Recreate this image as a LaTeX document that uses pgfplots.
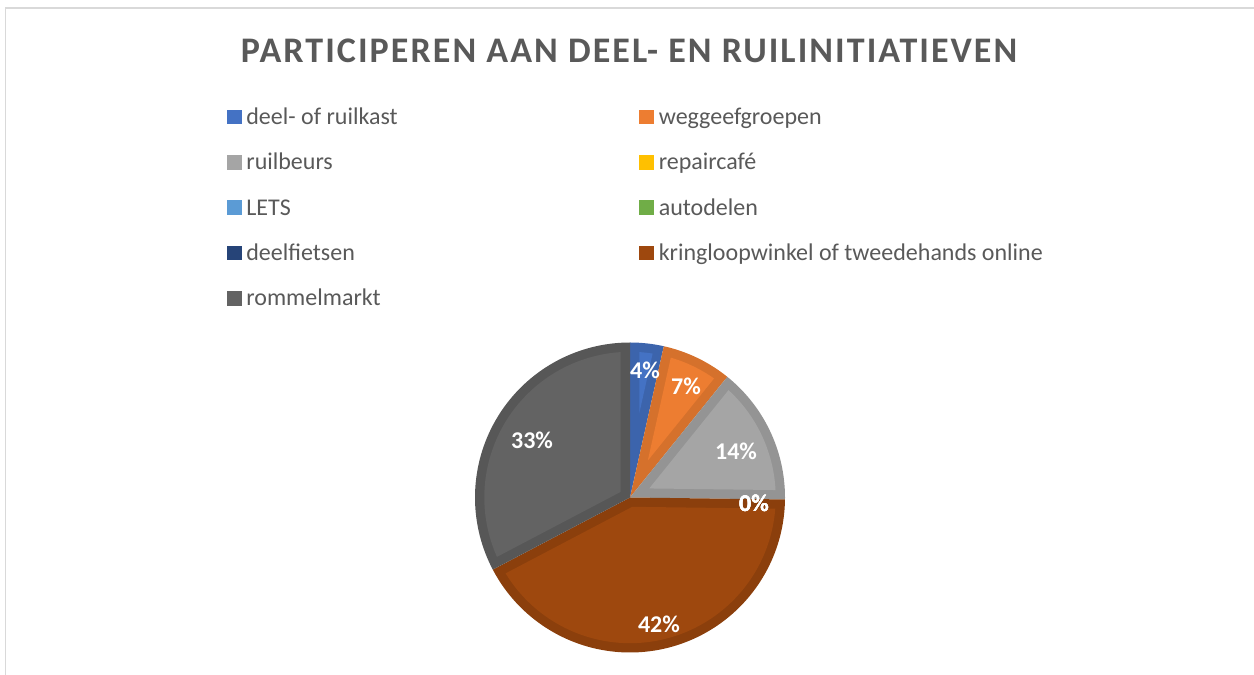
\documentclass[border=0pt]{standalone}
\usepackage{pgfplots}
\pgfplotsset{compat=1.18}
\usepackage{fontspec}
\setmainfont{Carlito}
\newfontfamily\titlefont[LetterSpace=5.7]{Carlito}
\definecolor{txt}{HTML}{595959}
\definecolor{frame}{HTML}{D9D9D9}
\definecolor{cA}{HTML}{4472C4}
\definecolor{cB}{HTML}{ED7D31}
\definecolor{cC}{HTML}{A5A5A5}
\definecolor{cD}{HTML}{FFC000}
\definecolor{cE}{HTML}{5B9BD5}
\definecolor{cF}{HTML}{70AD47}
\definecolor{cG}{HTML}{264478}
\definecolor{cH}{HTML}{9E480E}
\definecolor{cI}{HTML}{636363}
\colorlet{dA}{cA!88!black}
\colorlet{dB}{cB!90!black}
\colorlet{dC}{cC!90!black}
\colorlet{dH}{cH!88!black}
\colorlet{dI}{cI!88!black}
% data (percent)
\def\vA{3.5}  % deel- of ruilkast
\def\vB{7.3}  % weggeefgroepen
\def\vC{14.4} % ruilbeurs
\def\vD{0}    % repaircafe
\def\vE{0}    % LETS
\def\vF{0}    % autodelen
\def\vG{0}    % deelfietsen
\def\vH{42.1} % kringloopwinkel
\def\vI{32.7} % rommelmarkt
\def\bandw{0.06}
\pgfmathsetmacro\dl{asin(\bandw/(1-\bandw))}
\pgfmathsetmacro\rin{1-\bandw}
\newcommand{\slice}[4]{%
 \pgfmathsetmacro\thA{90-3.6*(#2)}%
 \pgfmathsetmacro\thB{90-3.6*(#1)}%
 \pgfmathsetmacro\ph{(\thA+\thB)/2}%
 \pgfmathsetmacro\ra{\bandw/sin((\thB-\thA)/2)}%
 \pgfmathsetmacro\ax{\ra*cos(\ph)}%
 \pgfmathsetmacro\ay{\ra*sin(\ph)}%
 \pgfmathsetmacro\iA{\thA+\dl}%
 \pgfmathsetmacro\iB{\thB-\dl}%
 \edef\doit{%
  \noexpand\addplot[fill=#3, draw=none, domain=\thA:\thB, samples=150, forget plot] ({cos(x)},{sin(x)}) -- (axis cs:0,0) -- cycle;
  \noexpand\addplot[fill=#4, draw=none, domain=\iA:\iB, samples=150] ({\rin*cos(x)},{\rin*sin(x)}) -- (axis cs:\ax,\ay) -- cycle;
 }\doit
}
\newcommand{\LA}[1]{\makebox[198.9bp][l]{\hspace{2.4bp}#1}}
\newcommand{\LB}[1]{\hspace{2.4bp}#1}
\begin{document}
\begin{tikzpicture}
\path[use as bounding box] (0,0) rectangle (627bp,337.5bp);
\draw[frame, line width=0.6bp] (2.75bp,-5bp) rectangle (640bp,333.5bp);
\node[anchor=base, text=txt, font=\fontsize{18bp}{20bp}\titlefont\bfseries] at (314.5bp,306.2bp) {PARTICIPEREN AAN DEEL- EN RUILINITIATIEVEN};
\begin{axis}[
  at={(315bp,88.75bp)}, anchor=center,
  x=77.5bp, y=77.5bp, xmin=-1, xmax=1, ymin=-1, ymax=1,
  hide axis, clip=false,
  legend columns=2,
  legend cell align=left,
  legend image code/.code={\fill[#1, draw=none] (0bp,0bp) rectangle (7.3bp,7.3bp);},
  legend style={draw=none, fill=none, inner sep=0pt, outer sep=0pt,
    column sep=0pt, row sep=0pt,
    at={(-0.8,1.801)}, anchor=north west,
    nodes={inner sep=0pt, anchor=base west, text height=15.15bp, text depth=7.5bp,
      text=txt, font=\fontsize{12bp}{13bp}\selectfont}},
]
\pgfmathsetmacro\pA{\vA}
\pgfmathsetmacro\pB{\pA+\vB}
\pgfmathsetmacro\pC{\pB+\vC}
\pgfmathsetmacro\pH{\pC+\vD+\vE+\vF+\vG+\vH}
\slice{0}{\pA}{dA}{cA}
\addlegendentry{\LA{deel- of ruilkast}}
\slice{\pA}{\pB}{dB}{cB}
\addlegendentry{\LB{weggeefgroepen}}
\slice{\pB}{\pC}{dC}{cC}
\addlegendentry{\LA{ruilbeurs}}
\addlegendimage{fill=cD}
\addlegendentry{\LB{repaircafé}}
\addlegendimage{fill=cE}
\addlegendentry{\LA{LETS}}
\addlegendimage{fill=cF}
\addlegendentry{\LB{autodelen}}
\addlegendimage{fill=cG}
\addlegendentry{\LA{deelfietsen}}
\slice{\pC}{\pH}{dH}{cH}
\addlegendentry{\LB{kringloopwinkel of tweedehands online}}
\slice{\pH}{100}{dI}{cI}
\addlegendentry{\LA{rommelmarkt}}
\begin{scope}[every node/.style={text=white, font=\fontsize{12bp}{13bp}\selectfont\bfseries, inner sep=0pt}]
\node at (axis cs:0.097,0.819) {4\%};
\node at (axis cs:0.361,0.719) {7\%};
\node at (axis cs:0.684,0.300) {14\%};
\node at (axis cs:0.800,-0.039) {0\%};
\node at (axis cs:0.800,-0.039) {0\%};
\node at (axis cs:0.800,-0.039) {0\%};
\node at (axis cs:0.800,-0.039) {0\%};
\node at (axis cs:0.187,-0.819) {42\%};
\node at (axis cs:-0.632,0.371) {33\%};
\end{scope}
\end{axis}
\end{tikzpicture}
\end{document}
